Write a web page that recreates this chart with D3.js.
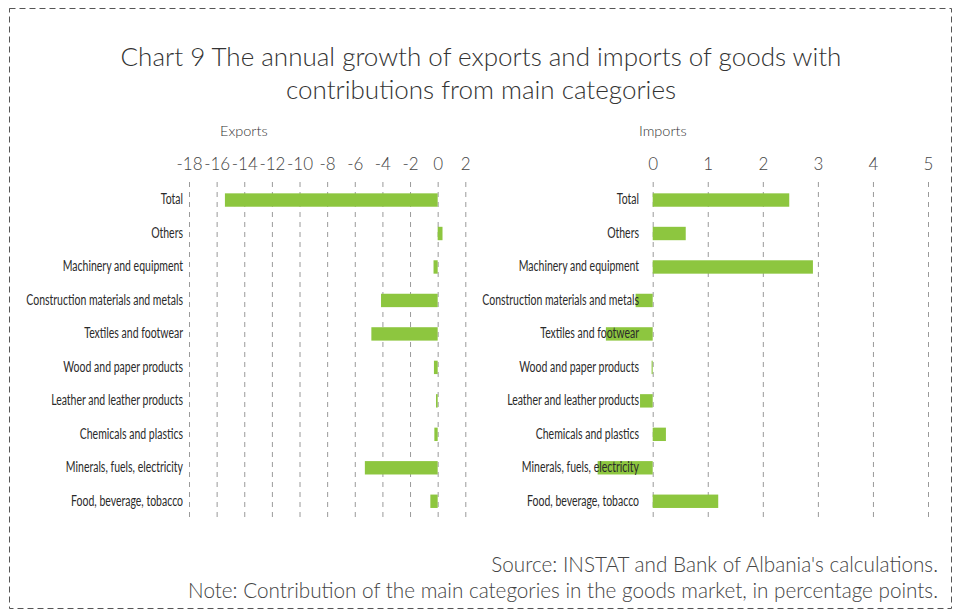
<!DOCTYPE html>
<head>
  <style>
    body { margin: 0; background: #fff; }
    text { fill: #3a3a3a; }
    .title { font-family: "Lato", sans-serif; font-weight: 300; font-size: 26px; fill: #333; }
    .tick text { font-family: "Lato", sans-serif; font-weight: 300; font-size: 17px; fill: #444; }
    .panel { font-family: "Lato", sans-serif; font-weight: 300; font-size: 14.5px; fill: #333; }
    .cat { font-family: "Lato", sans-serif; font-size: 15px; fill: #2a2a2a; }
    .note { font-family: "Lato", sans-serif; font-weight: 300; font-size: 20.7px; fill: #444; }
  </style>
  <title>Chart 9</title>
</head>
<body>
  <script src="https://cdn.jsdelivr.net/npm/d3@7"></script>
  <script type="text/javascript">
    // categories, top to bottom
    var categories = ["Total", "Others", "Machinery and equipment", "Construction materials and metals",
      "Textiles and footwear", "Wood and paper products", "Leather and leather products",
      "Chemicals and plastics", "Minerals, fuels, electricity", "Food, beverage, tobacco"];

    // contributions, percentage points
    var exportsVals = [-15.4, 0.35, -0.3, -4.1, -4.8, -0.27, -0.12, -0.24, -5.27, -0.53];
    var importsVals = [2.48, 0.6, 2.91, -0.31, -0.85, -0.02, -0.23, 0.24, -1.0, 1.19];

    var exportTicks = [-18, -16, -14, -12, -10, -8, -6, -4, -2, 0, 2];
    var importTicks = [0, 1, 2, 3, 4, 5];

    var w = 957, h = 614;
    var gridTop = 182, gridBottom = 518;

    var svg = d3.select("body").append("svg")
      .attr("width", w)
      .attr("height", h);

    // dashed frame
    svg.append("rect")
      .attr("x", 9.5).attr("y", 8.5)
      .attr("width", 942).attr("height", 600)
      .attr("fill", "none")
      .attr("stroke", "#555")
      .attr("stroke-dasharray", "6,4");

    // title
    svg.append("text").attr("class", "title")
      .attr("x", 481).attr("y", 66).attr("text-anchor", "middle")
      .text("Chart 9 The annual growth of exports and imports of goods with");
    svg.append("text").attr("class", "title")
      .attr("x", 481).attr("y", 99).attr("text-anchor", "middle")
      .text("contributions from main categories");

    var y = d3.scaleBand()
      .domain(categories)
      .range([183.3, 518])
      .paddingInner(0.6)
      .paddingOuter(0.3);

    function panel(name, vals, ticks, x, labelX, nameX) {
      var g = svg.append("g");

      // panel name
      g.append("text").attr("class", "panel")
        .attr("x", nameX).attr("y", 136)
        .text(name);

      // tick labels
      var axis = g.append("g")
        .attr("transform", "translate(0,170)")
        .call(d3.axisTop(x).tickValues(ticks).tickSize(0).tickPadding(0)
          .tickFormat(function(d) { return String(d); }));
      axis.select(".domain").remove();

      // dashed grid
      var grid = g.append("g")
        .attr("transform", "translate(0," + gridTop + ")")
        .call(d3.axisBottom(x).tickValues(ticks).tickSize(gridBottom - gridTop).tickFormat(""));
      grid.select(".domain").remove();
      grid.selectAll("line")
        .attr("stroke", "#9a9a9a")
        .attr("stroke-dasharray", "5,5");

      // bars
      g.append("g").selectAll("rect")
        .data(vals)
        .enter()
        .append("rect")
        .attr("fill", "#8dc63f")
        .attr("x", function(d) { return x(Math.min(0, d)); })
        .attr("y", function(d, i) { return y(categories[i]); })
        .attr("width", function(d) { return Math.max(1, Math.abs(x(d) - x(0))); })
        .attr("height", y.bandwidth());

      // category labels (condensed look)
      g.append("g").selectAll("text")
        .data(categories)
        .enter()
        .append("text")
        .attr("class", "cat")
        .attr("transform", function(d) {
          return "translate(" + labelX + "," + (y(d) + y.bandwidth() / 2 - 1) + ") scale(0.7,1)";
        })
        .attr("dy", "0.35em")
        .attr("text-anchor", "end")
        .text(function(d) { return d; });
    }

    var xE = d3.scaleLinear().domain([-18, 2]).range([189, 465.3]);
    var xI = d3.scaleLinear().domain([0, 5]).range([652.7, 928]);

    panel("Exports", exportsVals, exportTicks, xE, 183, 220);
    panel("Imports", importsVals, importTicks, xI, 639, 639);

    // source and note
    svg.append("text").attr("class", "note")
      .attr("x", 938).attr("y", 572).attr("text-anchor", "end")
      .text("Source: INSTAT and Bank of Albania's calculations.");
    svg.append("text").attr("class", "note")
      .attr("x", 938).attr("y", 598).attr("text-anchor", "end")
      .text("Note: Contribution of the main categories in the goods market, in percentage points.");
  </script>
</body>
